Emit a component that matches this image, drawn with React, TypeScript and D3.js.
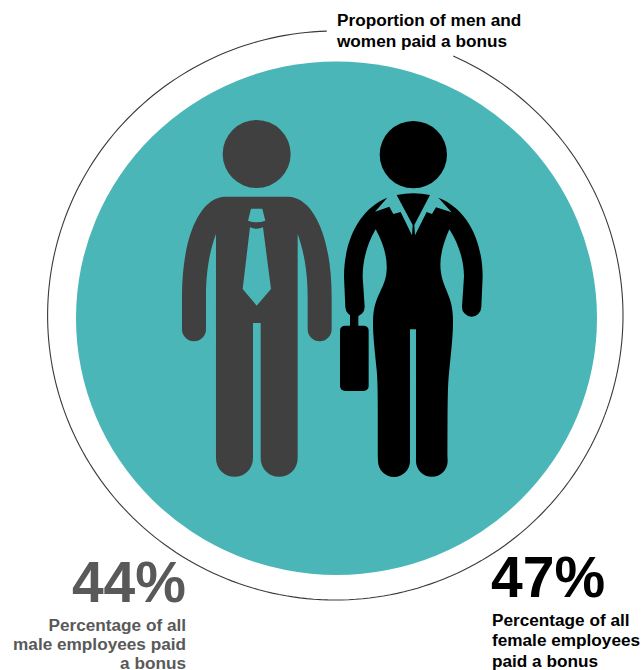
import React from "react";
import * as d3 from "d3";

// Bonus figures shown under each figure
const groups = ["male", "female"];
const bonusShare = [44, 47];
const captionLines = [
  ["Percentage of all", "male employees paid", "a bonus"],
  ["Percentage of all", "female employees", "paid a bonus"],
];
const titleLines = ["Proportion of men and", "women paid a bonus"];

const TEAL = "#4bb6b7";
const FONT = "'Liberation Sans', Arial, sans-serif";

// Outer ring: open at the top where the title sits
const ringCx = 335.3;
const ringCy = 315.5;
const ringRx = 287.7;
const ringRy = 284.5;
const ringAngles = d3.range(0, 1.0001, 1 / 240);
const ringAngle = d3
  .scaleLinear()
  .domain([0, 1])
  .range([(24.2 * Math.PI) / 180, (358.3 * Math.PI) / 180]);
const ringPath = d3
  .line<number>()
  .x((t) => ringCx + ringRx * Math.sin(ringAngle(t)))
  .y((t) => ringCy - ringRy * Math.cos(ringAngle(t)))(ringAngles) as string;

// Icons are authored in a 3x local grid
const manBody =
  "M165,260 L355,260 C430,262 485,380 485,560 L485,658 A36,36 0 0 1 413,658 L413,560 C413,480 400,420 383,372 L383,1045 A55.5,55.5 0 0 1 272,1045 L272,639 L249,639 L249,1045 A55.5,55.5 0 0 1 138,1045 L138,372 C120,420 108,480 108,560 L108,658 A36,36 0 0 1 36,658 L36,560 C36,380 90,262 165,260 Z";
const manKnot = "M243,296 L277,296 L286,332 Q260,342 234,332 Z";
const manTie = "M240,352 Q260,360 279,352 L303,537 L260,587 L218,537 Z";

const womanBody =
  "M172,263 L135,305 L178,290 L190,312 L212,306 L246,376 L248,345 L200,255 Q250,245 300,255 L253,345 L255,376 L290,306 L306,312 L318,292 L365,307 L325,263 C410,295 458,390 458,500 L454,592 A29,29 0 0 1 396,590 L402,500 C402,450 385,400 358,358 C340,400 328,440 332,480 C336,520 352,540 362,575 C375,620 368,680 358,780 C353,830 353,860 353,1053 A47.5,47.5 0 0 1 258,1053 L258,658 L240,658 L240,1053 A48,48 0 0 1 144,1053 C144,860 144,830 140,780 C130,680 122,620 138,575 C150,540 168,520 170,480 C172,440 160,400 137,358 C112,400 98,450 98,500 L104,590 A29,29 0 0 1 46,592 L42,500 C42,390 90,295 172,263 Z";

export default function App() {
  return (
    <svg
      width={643}
      height={670}
      viewBox="0 0 643 670"
      style={{ position: "absolute", left: 0, top: 0, display: "block" }}
      fontFamily={FONT}
    >
      <rect width={643} height={670} fill="#fff" />
      <ellipse cx={336.5} cy={318.2} rx={260.5} ry={256.8} fill={TEAL} />
      <path d={ringPath} fill="none" stroke="#3a3a3a" strokeWidth={1.1} />

      {/* Man */}
      <g transform="translate(170,110) scale(0.3333)">
        <circle cx={260} cy={132} r={102} fill="#404040" />
        <path d={manBody} fill="#404040" />
        <path d={manKnot} fill={TEAL} />
        <path d={manTie} fill={TEAL} />
      </g>

      {/* Woman with briefcase */}
      <g transform="translate(330,110) scale(0.3333)" fill="#000">
        <circle cx={250} cy={134} r={101} />
        <path d={womanBody} />
        <rect x={60} y={605} width={25} height={50} />
        <rect x={30} y={647} width={86} height={196} rx={15} />
      </g>

      {/* Title */}
      <g fontSize={17.2} fontWeight={700} fill="#000">
        {titleLines.map((line, i) => (
          <text key={line} x={337} y={26 + i * 20.7}>
            {line}
          </text>
        ))}
      </g>

      {/* Male figure */}
      <text x={186} y={602} textAnchor="end" fontSize={57} fontWeight={700} fill="#595959">
        {bonusShare[groups.indexOf("male")]}%
      </text>
      <g fontSize={17.2} fontWeight={700} fill="#595959" textAnchor="end">
        {captionLines[0].map((line, i) => (
          <text key={line} x={186} y={631 + i * 19.2}>
            {line}
          </text>
        ))}
      </g>

      {/* Female figure */}
      <text x={491} y={597} fontSize={57} fontWeight={700} fill="#000">
        {bonusShare[groups.indexOf("female")]}%
      </text>
      <g fontSize={17.2} fontWeight={700} fill="#000">
        {captionLines[1].map((line, i) => (
          <text key={line} x={492} y={626 + i * 20.4}>
            {line}
          </text>
        ))}
      </g>
    </svg>
  );
}
